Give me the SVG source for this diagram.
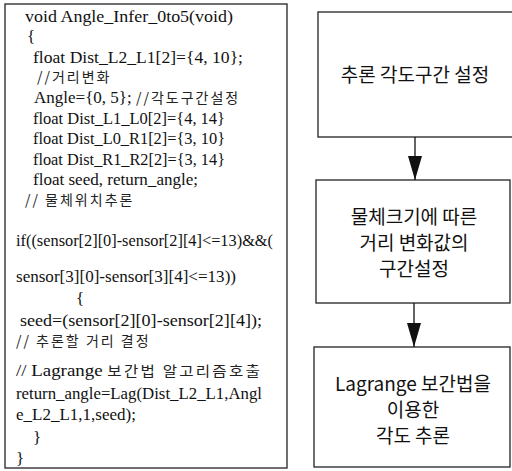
<svg xmlns="http://www.w3.org/2000/svg" width="512" height="471" viewBox="0 0 512 471">
<style>
.box{fill:#fff;stroke:#222;stroke-width:1.3}
.code{font-family:"Liberation Serif","Noto Sans CJK KR",serif;font-size:17px;fill:#111}
.kr{font-family:"Noto Sans CJK KR","Liberation Serif",serif;font-size:14px;fill:#222;letter-spacing:2px}
.lbl{font-family:"Noto Sans CJK KR","Noto Sans",sans-serif;font-size:19px;fill:#111;text-anchor:middle}
.conn{stroke:#111;stroke-width:1.3;fill:none}
</style>
<defs>
<marker id="ah" viewBox="0 0 24 14" refX="24" refY="7" markerWidth="24" markerHeight="14" markerUnits="userSpaceOnUse" orient="auto">
<path d="M0,0 L24,7 L0,14 Z" fill="#111"/>
</marker>
</defs>
<rect width="512" height="471" fill="#fff"/>
<g id="code">
<rect class="box" x="5" y="4" width="282" height="464"/>
<text class="code" x="25" y="22" textLength="208" lengthAdjust="spacingAndGlyphs">void  Angle_Infer_0to5(void)</text>
<text class="code" x="27" y="42">{</text>
<text class="code" x="33" y="63" textLength="210" lengthAdjust="spacingAndGlyphs">float  Dist_L2_L1[2]={4, 10};</text>
<text class="kr" x="37" y="82">//거리변화</text>
<text class="code" x="34" y="103">Angle={0, 5};  <tspan class="kr">//각도구간설정</tspan></text>
<text class="code" x="33" y="124" textLength="192" lengthAdjust="spacingAndGlyphs">float  Dist_L1_L0[2]={4, 14}</text>
<text class="code" x="33" y="144" textLength="192" lengthAdjust="spacingAndGlyphs">float  Dist_L0_R1[2]={3, 10}</text>
<text class="code" x="33" y="165" textLength="192" lengthAdjust="spacingAndGlyphs">float  Dist_R1_R2[2]={3, 14}</text>
<text class="code" x="33" y="185" textLength="165" lengthAdjust="spacingAndGlyphs">float  seed, return_angle;</text>
<text class="kr" x="25" y="205">// 물체위치추론</text>
<text class="code" x="16" y="246" textLength="257" lengthAdjust="spacingAndGlyphs">if((sensor[2][0]-sensor[2][4]&lt;=13)&amp;&amp;(</text>
<text class="code" x="16" y="282" textLength="220" lengthAdjust="spacingAndGlyphs">sensor[3][0]-sensor[3][4]&lt;=13))</text>
<text class="code" x="76" y="304">{</text>
<text class="code" x="20" y="326" textLength="242" lengthAdjust="spacingAndGlyphs">seed=(sensor[2][0]-sensor[2][4]);</text>
<text class="kr" x="16" y="346">// 추론할 거리 결정</text>
<text class="code" x="16" y="376" textLength="246" lengthAdjust="spacingAndGlyphs">// Lagrange <tspan class="kr">보간법 알고리즘호출</tspan></text>
<text class="code" x="16" y="399" textLength="246" lengthAdjust="spacingAndGlyphs">return_angle=Lag(Dist_L2_L1,Angl</text>
<text class="code" x="16" y="420">e_L2_L1,1,seed);</text>
<text class="code" x="33" y="443">}</text>
<text class="code" x="16" y="464">}</text>
</g>
<g id="step1">
<rect class="box" x="318" y="12" width="200" height="125"/>
<text class="lbl" x="415" y="82">추론 각도구간 설정</text>
</g>
<g id="step2">
<rect class="box" x="316" y="180" width="194" height="123"/>
<text class="lbl" x="414" y="224">물체크기에 따른</text>
<text class="lbl" x="414" y="250">거리 변화값의</text>
<text class="lbl" x="414" y="276">구간설정</text>
</g>
<g id="step3">
<rect class="box" x="314" y="347" width="196" height="120"/>
<text class="lbl" x="413" y="391">Lagrange 보간법을</text>
<text class="lbl" x="413" y="417">이용한</text>
<text class="lbl" x="413" y="443">각도 추론</text>
</g>
<g id="connectors">
<line class="conn" x1="415" y1="137" x2="415" y2="180" marker-end="url(#ah)"/>
<line class="conn" x1="414" y1="303" x2="414" y2="347" marker-end="url(#ah)"/>
</g>
</svg>
